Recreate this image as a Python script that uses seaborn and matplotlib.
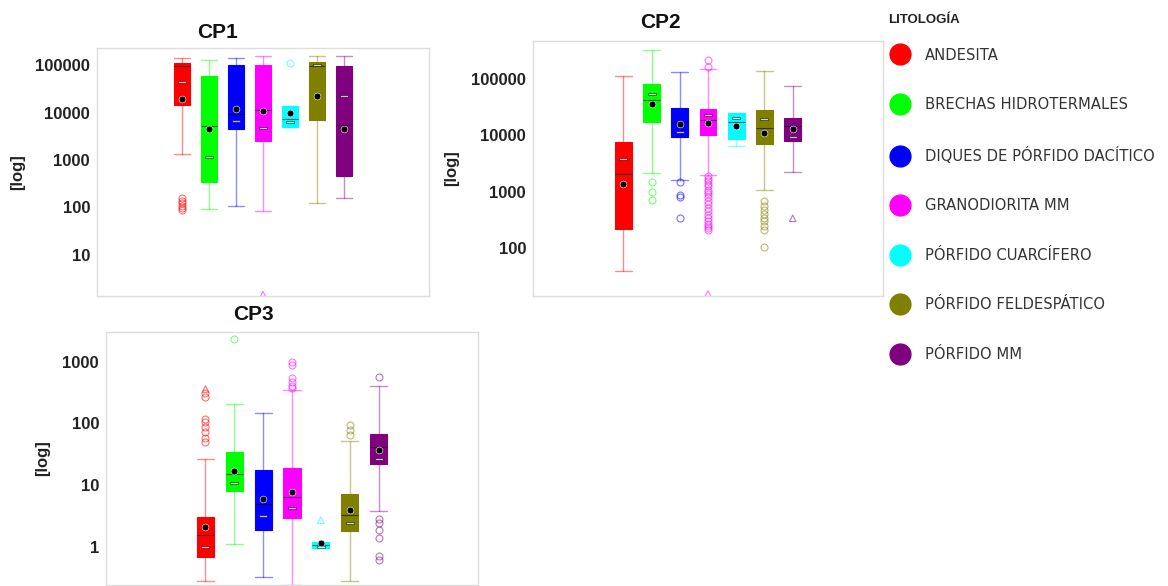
import numpy as np
import pandas as pd
import matplotlib
matplotlib.use("Agg")
import matplotlib.pyplot as plt
import seaborn as sns
from matplotlib.lines import Line2D
from matplotlib.ticker import FixedLocator, FixedFormatter, NullLocator

# ---------------- data ----------------
lithologies = ["ANDESITA", "BRECHAS HIDROTERMALES", "DIQUES DE PÓRFIDO DACÍTICO",
               "GRANODIORITA MM", "PÓRFIDO CUARCÍFERO", "PÓRFIDO FELDESPÁTICO", "PÓRFIDO MM"]
colors = ["#ff0000", "#00ff00", "#0000ff", "#ff00ff", "#00ffff", "#808000", "#800080"]

# CP1
cp1_whislo = [1320, 93, 105, 83, 5000, 126, 155]
cp1_q1 = [14250, 340, 4600, 2500, 5000, 6900, 450]
cp1_med = [95000, 5100, 9500, 11500, 7500, 98000, 5600]
cp1_q3 = [109000, 60000, 100000, 100000, 13500, 117000, 95000]
cp1_whishi = [145000, 128000, 143000, 155000, 13500, 155000, 155000]
cp1_mean = [19000, 4500, 12000, 10700, 10000, 22400, 4600]
cp1_mark = [44600, 1150, 6600, 4800, 6300, 100000, 22400]
cp1_fliers = [[160, 140, 122, 108, 96, 88], [], [], [], [112000], [], []]
cp1_far = [[], [], [], [1.45], [], [], []]

# CP2
cp2_whislo = [39, 2140, 1630, 2000, 6600, 1090, 2240]
cp2_q1 = [220, 17300, 9200, 10000, 8500, 7100, 8100]
cp2_med = [2100, 42500, 17600, 18800, 17000, 13700, 14500]
cp2_q3 = [7500, 81000, 30300, 29500, 24700, 28300, 20000]
cp2_whishi = [113000, 320000, 135000, 148000, 24700, 140000, 76000]
cp2_mean = [1370, 35500, 15800, 16500, 14400, 11200, 12800]
cp2_mark = [3800, 55000, 11400, 23000, 20000, 19600, 9500]
cp2_fliers = [[], [1510, 1000, 720], [1500, 890, 800, 340],
              [220000, 165000, 1880, 1700, 1550, 1400, 1250, 1100, 1000, 900, 800, 700,
               600, 520, 450, 390, 340, 300, 270, 250, 230, 215],
              [], [680, 560, 480, 400, 340, 300, 250, 215, 107], []]
cp2_far = [[], [], [], [15.5], [], [], [340]]

# CP3
cp3_whislo = [0.28, 1.1, 0.32, 0.24, 0.95, 0.28, 3.8]
cp3_q1 = [0.69, 8.1, 1.9, 2.9, 0.95, 1.8, 22]
cp3_med = [1.58, 15, 5.0, 6.5, 1.05, 3.3, 41]
cp3_q3 = [3.06, 34, 17.8, 18.6, 1.18, 7.1, 67]
cp3_whishi = [26, 204, 145, 350, 1.18, 52, 400]
cp3_mean = [2.1, 17, 5.9, 7.6, 1.15, 3.9, 37]
cp3_mark = [1.0, 11, 3.1, 4.2, 1.0, 2.4, 26]
cp3_fliers = [[310, 270, 120, 107, 89, 73, 57, 50], [2340], [],
              [1000, 880, 540, 475, 400, 370], [], [94, 78, 66],
              [560, 2.8, 2.4, 1.9, 1.4, 0.72, 0.62]]
cp3_far = [[360], [], [], [], [2.7], [], []]

panels = [
    dict(title="CP1", whislo=cp1_whislo, q1=cp1_q1, med=cp1_med, q3=cp1_q3, whishi=cp1_whishi,
         mean=cp1_mean, mark=cp1_mark, fliers=cp1_fliers, far=cp1_far,
         ticks=[10, 100, 1000, 10000, 100000]),
    dict(title="CP2", whislo=cp2_whislo, q1=cp2_q1, med=cp2_med, q3=cp2_q3, whishi=cp2_whishi,
         mean=cp2_mean, mark=cp2_mark, fliers=cp2_fliers, far=cp2_far,
         ticks=[100, 1000, 10000, 100000]),
    dict(title="CP3", whislo=cp3_whislo, q1=cp3_q1, med=cp3_med, q3=cp3_q3, whishi=cp3_whishi,
         mean=cp3_mean, mark=cp3_mark, fliers=cp3_fliers, far=cp3_far,
         ticks=[1, 10, 100, 1000]),
]

# ---------------- layout ----------------
W, H = 1168, 586
sns.set_theme(style="white")
plt.rcParams["font.family"] = ["Liberation Sans", "DejaVu Sans"]

fig = plt.figure(figsize=(W / 100, H / 100), dpi=100)

def px_axes(x0, y0, x1, y1):
    return fig.add_axes([x0 / W, 1 - y1 / H, (x1 - x0) / W, (y1 - y0) / H])

axes_px = [(97, 48, 429, 296), (533, 41, 883, 296), (106, 332, 478, 585)]
ylims = [(1.36, 2.3e5), (14.3, 4.7e5), (0.24, 3030)]
xlims = [(-3.15, 9.15), (-3.2, 9.2), (-3.45, 9.45)]
title_pos = [(217, 32), (660, 23), (253, 315)]
ylabel_x = [18, 452, 43]

dash_marker = [(-1, -0.32), (1, -0.32), (1, 0.32), (-1, 0.32), (-1, -0.32)]

for p, apx, yl, xl, tp, ylx in zip(panels, axes_px, ylims, xlims, title_pos, ylabel_x):
    ax = px_axes(*apx)
    ax.set_yscale("log")
    n = len(lithologies)
    for i in range(n):
        c = colors[i]
        st = dict(whislo=p["whislo"][i], q1=p["q1"][i], med=p["med"][i], q3=p["q3"][i],
                  whishi=p["whishi"][i], fliers=p["fliers"][i], label=lithologies[i])
        ax.bxp([st], positions=[i], widths=0.6, patch_artist=True, showfliers=True,
               boxprops=dict(facecolor=c, edgecolor=c, linewidth=0.8),
               whiskerprops=dict(color=c, linewidth=1.0, alpha=0.45),
               capprops=dict(color=c, linewidth=1.0, alpha=0.45),
               capwidths=0.6,
               medianprops=dict(color="black", linewidth=0.8, alpha=0.6),
               flierprops=dict(marker="o", markerfacecolor="none", markeredgecolor=c,
                               markersize=5, markeredgewidth=0.8, alpha=0.55, linestyle="none"))
        if p["far"][i]:
            ax.scatter([i] * len(p["far"][i]), p["far"][i], marker="^", s=22,
                       facecolors="none", edgecolors=c, linewidths=0.8, alpha=0.55, zorder=3)
    df = pd.DataFrame({"pos": np.arange(n), "mean": p["mean"], "mark": p["mark"]})
    sns.scatterplot(data=df, x="pos", y="mark", marker=dash_marker, s=28, color="white",
                    edgecolor="black", linewidth=0.5, alpha=0.7, ax=ax, zorder=4, legend=False)
    sns.scatterplot(data=df, x="pos", y="mean", marker="o", s=24, color="black",
                    edgecolor="white", linewidth=0.4, ax=ax, zorder=5, legend=False)
    ax.set_xlim(*xl)
    ax.set_ylim(*yl)
    ax.yaxis.set_major_locator(FixedLocator(p["ticks"]))
    ax.yaxis.set_major_formatter(FixedFormatter([str(t) for t in p["ticks"]]))
    ax.yaxis.set_minor_locator(NullLocator())
    ax.set_xticks([])
    ax.set_xlabel("")
    ax.set_ylabel("")
    ax.tick_params(axis="y", length=0, pad=5, labelsize=12, labelcolor="#222222")
    for lab in ax.get_yticklabels():
        lab.set_fontweight("bold")
    for s in ax.spines.values():
        s.set_color("#dddddd")
        s.set_linewidth(1.0)
    fig.text(tp[0] / W, 1 - tp[1] / H, p["title"], ha="center", va="center",
             fontsize=15, fontweight="bold", color="#111111")
    cy = (apx[1] + apx[3]) / 2
    fig.text(ylx / W, 1 - cy / H, "[log]", ha="center", va="center", rotation=90,
             fontsize=12, fontweight="bold", color="#222222")

# legend
fig.text(888 / W, 1 - 20 / H, "LITOLOGÍA", ha="left", va="center", fontsize=9.5,
         fontweight="bold", color="#222222")
handles = [Line2D([], [], marker="o", linestyle="none", markerfacecolor=c, markeredgecolor=c,
                  markersize=15) for c in colors]
leg = fig.legend(handles, lithologies, loc="upper left",
                 bbox_to_anchor=(890 / W, 1 - 47.5 / H), frameon=False,
                 prop={"family": "DejaVu Sans", "size": 10.6},
                 labelspacing=2.35, handletextpad=1.05, borderaxespad=0, borderpad=0,
                 handlelength=1.34)
for t in leg.get_texts():
    t.set_color("#333333")

fig.savefig("out.png", dpi=100)
